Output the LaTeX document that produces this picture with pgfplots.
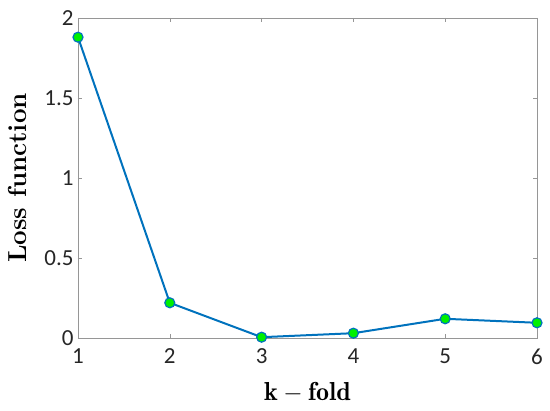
\documentclass[border=0pt]{standalone}
\usepackage{fontspec}
\setsansfont{Carlito}
\usepackage{pgfplots}
\pgfplotsset{compat=1.18}
\definecolor{mblue}{RGB}{0,114,189}
\definecolor{mgreen}{RGB}{0,240,0}
\definecolor{axgray}{RGB}{150,150,150}
\definecolor{txt}{RGB}{38,38,38}
\begin{document}
\begin{tikzpicture}
\path[use as bounding box] (-78pt,-73pt) rectangle (472pt,338pt);
\begin{axis}[
    at={(0,0)}, anchor=south west,
    scale only axis,
    width=459pt, height=320pt,
    xmin=1, xmax=6, ymin=0, ymax=2,
    xtick={1,2,3,4,5,6},
    ytick={0,0.5,1,1.5,2},
    axis line style={axgray},
    tick style={axgray},
    tick align=inside,
    major tick length=4pt,
    /pgf/number format/assume math mode=true,
    tick label style={font=\fontsize{23}{26}\sffamily\selectfont, text=txt},
    xticklabel style={yshift=-7pt},
    yticklabel style={xshift=-1pt},
    xlabel={$\mathbf{k - fold}$},
    ylabel={\textbf{Loss function}},
    label style={font=\fontsize{26}{30}\selectfont, text=black},
    xlabel style={at={(axis description cs:0.5,-0.17)}, anchor=center},
    ylabel style={at={(axis description cs:-0.131,0.5)}, anchor=center},
]
\addplot[mblue, line width=2pt, mark=*, mark size=5pt,
    mark options={fill=mgreen, draw=mblue, line width=1.2pt}] coordinates {
    (1,1.88) (2,0.22) (3,0.005) (4,0.03) (5,0.12) (6,0.095)
};
\end{axis}
\end{tikzpicture}
\end{document}
